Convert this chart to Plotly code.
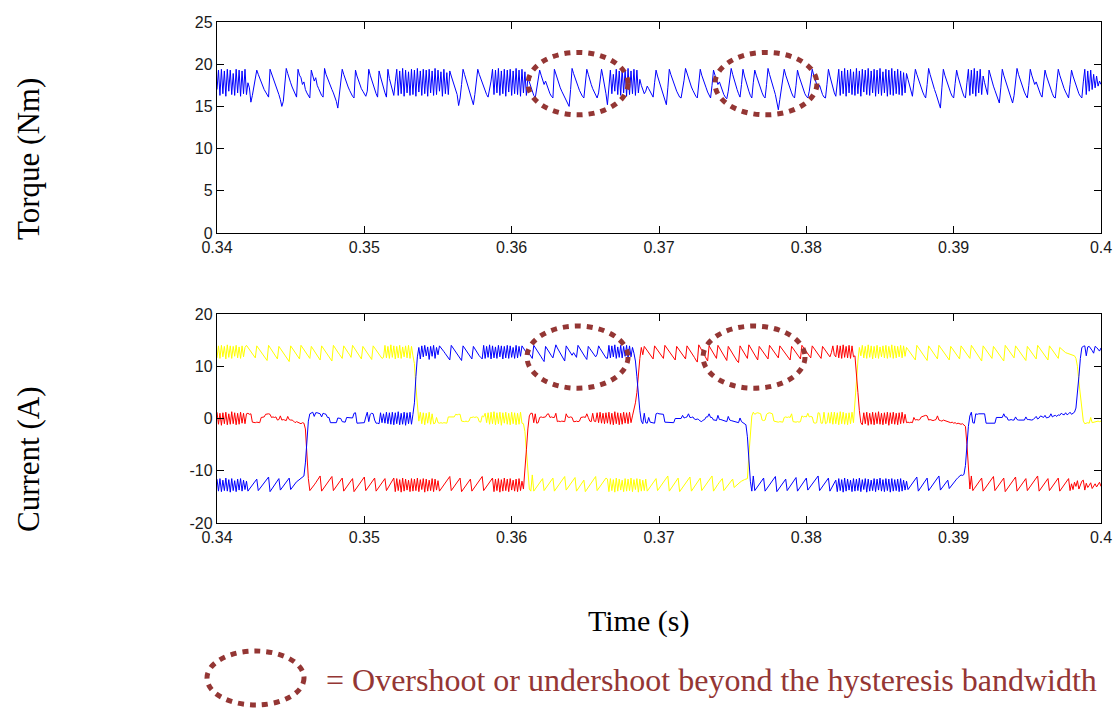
import numpy as np
import plotly.graph_objects as go

# ---------------- data ----------------
T_START = 0.34      # s, first sample
DT = 0.0001         # s, sample spacing

TORQUE = [
    17.0,19.3,16.3,19.4,16.5,19.2,16.2,19.4,16.8,19.3,16.4,18.9,16.3,19.4,16.6,19.3,16.2,19.2,16.5,19.4,16.4,17.8,
    17.2,15.5,16.3,17.4,18.5,
    19.3,18.8,18.3,17.8,17.5,17.0,16.7,16.3,16.1,
    19.4,18.9,18.6,18.0,17.6,17.1,16.4,15.8,15.0,15.6,17.5,
    19.5,18.9,18.2,17.8,17.3,16.9,16.4,16.1,
    19.4,18.7,18.4,17.6,17.9,17.0,16.6,16.2,16.0,
    19.3,18.6,18.0,18.4,17.5,17.1,16.6,16.3,16.1,
    19.5,18.8,18.3,17.8,17.4,17.0,16.6,16.1,15.6,14.8,16.2,17.8,
    19.4,18.8,18.2,17.7,17.3,16.9,16.5,16.2,16.0,
    19.3,18.6,18.0,17.6,17.1,16.8,16.4,16.2,16.8,
    19.4,18.7,18.1,17.5,17.0,16.5,16.1,
    19.2,18.5,17.8,17.2,16.6,16.1,
    19.4,18.3,17.6,16.9,16.3,17.9,
    19.4,16.3,19.2,16.5,19.5,16.2,19.3,16.6,19.1,16.3,19.4,16.4,19.3,16.2,19.5,16.7,19.2,16.3,
    19.4,16.5,19.3,16.2,19.4,16.6,19.2,16.3,19.5,16.4,19.3,16.8,19.1,16.2,19.4,16.5,19.0,16.4,
    19.2,18.6,18.0,17.5,17.0,16.4,15.1,16.0,17.6,
    19.4,18.8,18.2,17.7,17.2,16.7,16.1,15.2,16.4,17.9,
    19.4,18.8,18.3,17.8,17.3,16.8,16.4,16.1,16.9,18.0,
    19.4,16.4,19.3,16.6,19.5,16.3,19.2,16.5,19.4,16.2,19.3,16.7,19.4,16.3,19.2,16.5,19.5,16.4,19.3,16.2,19.4,16.6,19.1,16.3,18.4,
    17.8,17.2,16.7,16.3,16.0,17.2,18.5,
    19.3,18.7,18.2,17.6,18.0,17.4,16.9,16.5,16.2,16.0,
    19.4,18.8,18.2,17.7,17.2,16.8,16.4,16.0,15.6,15.2,15.0,17.0,
    19.5,18.9,18.3,17.8,17.4,16.9,16.5,16.2,16.0,17.6,
    19.4,18.8,18.1,17.6,17.1,16.7,16.3,16.0,16.6,18.0,
    19.4,18.5,17.6,16.5,15.2,
    17.8,19.3,16.5,18.8,16.8,19.4,16.4,19.2,16.3,19.4,16.6,19.3,16.2,19.5,16.4,19.2,16.5,19.4,16.3,19.3,16.6,18.2,
    17.5,16.9,16.5,16.8,17.4,17.1,16.7,16.4,16.1,17.8,
    19.3,18.6,18.0,17.4,16.9,16.4,15.8,15.2,17.2,
    19.4,18.8,18.2,17.7,17.3,16.8,16.4,16.1,16.0,16.9,18.1,
    19.5,18.9,18.3,17.8,17.3,16.9,16.5,16.2,16.0,17.7,
    19.4,18.7,18.1,17.6,17.2,16.7,16.3,16.0,17.5,
    19.3,18.7,18.1,17.6,17.9,17.3,16.8,16.4,16.1,15.9,16.8,18.0,
    19.5,18.8,18.1,17.5,17.0,16.5,16.1,17.6,
    19.4,18.6,17.9,17.3,16.8,16.3,16.0,17.8,
    19.3,18.7,18.1,17.5,17.0,16.6,16.2,16.0,17.6,
    19.5,18.8,18.1,17.5,17.0,16.4,15.6,14.6,15.8,17.0,18.2,
    19.4,18.7,18.1,17.5,17.0,16.6,16.2,16.0,17.5,
    19.3,18.6,18.0,17.4,16.9,16.5,16.2,16.0,16.8,18.1,
    19.4,18.7,18.1,17.6,17.1,17.5,16.9,16.4,16.1,16.0,17.6,
    19.4,18.6,17.8,17.2,16.6,16.2,17.9,
    19.4,16.3,19.2,16.5,19.5,16.2,19.3,16.6,19.4,16.4,19.1,16.3,19.5,16.5,19.2,16.2,19.4,16.7,19.3,16.4,
    19.5,16.3,19.2,16.6,19.4,16.2,19.3,16.5,19.5,16.3,19.1,16.6,19.4,16.2,19.3,16.4,19.5,16.3,19.2,16.5,
    19.4,16.4,19.2,16.3,19.0,16.6,
    18.9,18.2,17.5,16.8,16.2,17.8,
    19.4,18.8,18.2,17.6,17.1,16.7,16.3,16.0,17.6,
    19.5,18.8,18.1,17.5,17.0,16.5,16.0,15.5,14.8,17.2,
    19.4,18.7,18.1,17.5,17.0,16.6,16.2,16.0,17.7,
    19.3,18.5,17.8,17.2,16.7,16.2,16.0,17.8,
    19.4,16.3,19.3,16.5,19.5,16.2,19.2,16.6,19.4,16.4,
    18.6,17.8,17.0,16.4,
    19.3,18.6,18.0,17.4,16.9,16.4,15.9,15.4,17.2,
    19.4,18.7,18.1,17.5,17.0,16.5,16.0,15.4,16.3,17.9,
    19.5,18.8,18.2,17.6,17.1,16.7,16.3,16.0,17.5,
    19.4,18.7,18.1,17.6,17.9,17.3,16.8,16.4,16.1,17.7,
    19.3,18.6,18.0,17.5,17.0,16.5,16.1,16.0,17.8,
    19.4,18.7,18.1,17.6,17.1,16.7,16.3,16.0,17.6,
    19.3,18.6,18.0,17.4,16.9,16.5,16.2,16.0,17.9,
    19.4,16.4,19.2,16.8,19.3,17.0,18.8,17.2,18.6,17.4,
    18.0,17.6,
]

CURRENT_BLUE = [
    -11.6,-13.9,-11.5,-14.0,-11.8,-13.8,-11.4,-13.9,-11.7,-14.1,-11.5,-13.8,-11.9,-14.0,-11.6,-13.7,-11.5,-13.9,-11.8,-13.6,-12.0,
    -13.9,-13.5,-13.1,-12.7,-12.3,-12.0,-11.6,
    -13.8,-13.4,-13.0,-12.6,-12.2,-11.9,-11.5,-11.2,
    -14.0,-13.6,-13.2,-12.8,-12.3,-11.9,-11.5,
    -13.7,-13.3,-12.9,-12.5,-12.1,-11.8,-11.4,
    -13.6,-13.2,-12.8,-12.4,-12.1,-11.9,-11.7,-11.5,-11.3,-11.0,
    -8.5,-4.0,-0.5,0.9,
    1.0,1.2,0.4,1.1,1.1,1.0,0.9,0.3,1.0,0.9,
    0.8,0.2,0.2,-0.8,-0.8,-0.8,-0.9,-0.8,0.1,0.1,
    0.0,-0.6,-0.7,-0.7,0.2,0.2,0.2,0.2,0.1,1.0,
    1.1,-0.9,-0.9,-0.8,-0.9,-0.9,-0.8,0.3,1.2,-0.6,
    0.8,1.0,0.9,-0.3,-0.9,-0.9,-1.0,1.1,-0.8,0.9,
    -0.9,1.2,-1.0,1.1,
    -1.1,1.2,-1.2,1.1,-1.0,1.3,-1.2,1.0,-1.1,1.2,-1.3,1.1,-1.0,1.2,-1.1,0.8,
    3.0,8.0,
    11.8,13.6,
    11.4,13.9,11.8,14.0,12.0,13.7,11.3,13.8,11.9,14.0,11.5,13.6,12.2,13.9,
    13.6,13.2,12.8,12.4,12.0,11.6,11.2,
    14.0,13.6,13.2,12.7,12.3,11.9,11.5,11.1,
    13.9,13.5,13.0,12.6,12.2,11.8,11.4,
    13.8,13.3,12.9,12.4,12.0,11.7,11.4,
    14.0,11.5,13.8,11.7,14.1,11.4,13.9,11.6,13.7,11.5,14.0,11.8,13.9,11.4,13.8,11.6,14.0,11.5,13.9,11.7,13.6,11.5,14.0,11.6,13.8,11.9,
    13.9,13.5,13.0,12.6,12.8,12.3,11.9,11.5,
    14.0,13.6,13.1,12.7,12.2,11.8,11.3,10.9,
    13.8,13.3,12.9,12.4,12.0,11.6,12.8,
    14.1,13.5,13.0,12.5,12.0,11.5,11.0,
    13.9,13.4,12.9,12.5,12.1,12.6,12.2,11.7,
    14.0,13.5,13.0,12.5,12.1,11.7,11.3,
    13.8,13.4,13.0,12.6,12.2,11.8,12.3,
    13.9,13.4,12.9,12.4,12.0,11.6,11.5,
    14.0,11.6,13.9,11.8,14.1,11.5,13.7,11.7,14.0,11.6,13.8,11.9,14.0,11.5,13.9,11.8,13.6,
    12.5,11.0,8.0,4.5,
    1.5,-0.5,-1.0,
    1.0,-0.8,-0.9,0.2,-0.7,-0.8,-0.8,-0.9,0.9,1.0,
    0.9,0.9,0.9,0.8,-0.7,-0.7,-0.7,-0.8,-0.8,-0.7,
    -0.8,0.0,0.0,0.1,0.1,0.0,0.6,0.1,0.2,0.3,
    0.9,0.2,0.2,0.3,-0.1,-0.2,-0.1,-0.2,-0.5,-0.6,
    -0.3,-0.2,0.3,0.3,0.9,0.2,0.2,-0.3,-0.3,-0.4,
    0.6,-0.2,-0.2,-0.3,-0.5,-0.6,-0.6,0.4,-0.3,-0.4,
    -0.5,-0.6,-0.7,-0.8,-0.8,0.1,-0.6,-0.8,-1.0,-1.2,
    -3.5,-8.0,
    -12.0,-13.9,
    -11.0,-13.8,-13.4,-13.0,-12.6,-12.2,-11.8,-11.4,
    -13.9,-13.5,-13.1,-12.7,-12.3,-11.9,-11.5,-11.1,
    -14.0,-13.6,-13.2,-12.8,-12.4,-12.0,-11.6,
    -13.8,-13.4,-13.0,-12.6,-12.2,-11.8,-11.3,
    -13.9,-13.5,-13.1,-12.7,-12.2,-11.8,-11.4,
    -13.7,-13.3,-12.9,-12.5,-12.1,-11.7,-11.3,-11.0,
    -13.8,-13.4,-13.0,-12.6,-12.2,-11.8,-11.4,
    -13.9,-13.4,-12.9,-12.4,-11.8,
    -14.0,-11.5,-13.8,-11.7,-14.1,-11.4,-13.9,-11.6,-13.7,-11.8,
    -14.0,-11.5,-13.9,-11.6,-13.8,-11.4,-14.0,-11.7,-13.6,-11.5,
    -14.1,-11.6,-13.9,-11.8,-13.8,-11.5,-14.0,-11.6,-13.7,-11.4,
    -13.9,-11.7,-14.0,-11.5,-13.8,-11.6,-14.1,-11.5,-13.9,-11.7,
    -13.8,-11.6,-14.0,-11.5,-13.9,-11.8,-13.7,-12.0,
    -13.6,-13.2,-12.8,-12.4,-12.0,-11.6,-11.2,
    -13.9,-13.5,-13.1,-12.6,-12.2,-11.8,-11.4,
    -13.8,-13.4,-13.0,-12.6,-12.2,-11.8,-11.4,-11.0,
    -13.7,-13.3,-12.9,-12.5,-12.1,-11.8,
    -13.4,-13.0,-12.6,-12.2,-11.9,-11.6,-11.3,-11.0,-10.8,-10.9,-10.7,
    -9.0,-5.0,-1.5,
    0.5,
    1.2,-0.8,-0.9,0.9,0.8,0.9,0.9,1.0,1.0,0.9,
    -0.9,-0.9,-0.8,-0.9,-0.9,-0.8,-0.9,0.2,0.2,0.3,
    0.2,0.2,0.9,0.3,0.3,-0.3,-0.3,-0.2,-0.3,-0.3,
    0.3,-0.2,-0.3,-0.3,-0.4,-0.3,-0.3,0.3,-0.2,-0.2,
    -0.3,-0.3,-0.2,0.2,0.4,-0.1,0.1,0.5,0.3,0.2,
    0.6,0.1,0.2,0.3,0.9,0.3,0.5,0.6,0.4,0.7,
    0.6,1.0,0.8,0.7,1.1,0.7,0.9,1.2,0.8,1.0,
    1.2,2.0,4.5,8.0,11.5,13.6,
    13.8,13.9,12.0,13.7,13.8,13.5,13.0,12.5,13.8,13.6,13.2,12.9,13.5,
]

CURRENT_YELLOW = [
    11.6,13.9,11.5,14.0,11.8,13.8,11.4,14.1,11.7,13.9,11.5,13.8,11.9,14.0,11.6,13.7,11.5,13.9,11.8,13.6,
    14.0,13.6,13.2,12.8,12.4,12.0,11.6,
    13.9,13.5,13.1,12.7,12.3,11.9,11.5,11.1,
    14.0,13.6,13.1,12.7,12.3,11.8,11.4,
    13.8,13.4,13.0,12.6,12.1,11.7,11.3,10.9,
    13.9,13.5,13.1,12.6,12.2,11.8,11.4,
    14.0,13.6,13.2,12.7,12.3,11.9,11.5,
    13.8,13.4,13.0,12.5,12.1,11.7,11.2,
    13.9,13.5,13.0,12.6,12.2,11.8,11.4,11.0,
    14.0,13.5,13.1,12.7,12.3,11.9,11.5,
    13.9,13.4,13.0,12.6,12.2,11.7,
    14.0,13.6,13.1,12.7,12.2,11.8,11.4,
    13.8,13.4,13.0,12.5,12.1,11.7,11.3,
    13.9,13.5,13.1,12.7,12.3,11.9,11.5,11.7,
    14.0,11.6,13.8,11.5,14.1,11.7,13.9,11.4,13.8,11.6,14.0,11.5,13.7,11.8,13.9,11.6,14.0,11.5,13.8,12.0,
    10.5,6.0,2.0,-0.5,
    1.2,-1.0,1.1,-1.2,1.0,-0.9,1.2,-1.1,0.9,-1.0,-0.9,0.2,-0.8,-0.9,-0.8,
    -0.9,-0.8,-0.8,-0.9,0.3,0.3,0.3,0.2,0.3,0.8,
    0.7,0.8,0.8,-0.5,-0.6,-0.6,-0.5,-0.6,-0.5,0.2,
    0.2,0.3,0.2,0.3,0.2,-0.6,-0.7,0.5,0.3,1.0,
    -0.8,1.1,
    -1.1,1.2,-1.0,1.3,-1.2,1.1,-1.0,1.2,-1.3,1.1,-0.9,1.2,-1.1,1.0,-1.2,1.2,-1.0,1.1,-1.2,1.0,-1.1,1.2,-0.9,
    -1.0,-2.5,-6.5,-11.0,
    -13.5,-13.9,
    -10.8,-13.9,-13.5,-13.1,-12.7,-12.3,-11.9,-11.5,
    -13.8,-13.4,-13.0,-12.6,-12.2,-11.8,-11.4,
    -13.9,-13.5,-13.1,-12.7,-12.3,-11.9,-11.5,-11.1,
    -13.7,-13.3,-12.9,-12.5,-12.1,-11.7,-11.3,
    -13.9,-13.5,-13.0,-12.6,-12.2,-11.8,
    -14.0,-13.6,-13.2,-12.8,-12.3,-11.9,-11.5,-11.1,
    -13.8,-13.4,-13.0,-12.5,-12.1,-11.7,-11.4,-11.6,
    -14.0,-11.5,-13.8,-11.7,-14.1,-11.4,-13.9,-11.6,-13.7,-11.8,-14.0,-11.5,-13.9,
    -11.6,-13.8,-11.4,-14.0,-11.7,-13.6,-11.5,-14.1,-11.6,-13.9,-11.8,-13.8,-11.6,
    -13.9,-13.5,-13.1,-12.7,-12.3,-11.9,-11.5,
    -13.8,-13.4,-13.0,-12.6,-12.2,-11.8,-11.4,-11.0,
    -13.9,-13.5,-13.1,-12.6,-12.2,-11.8,-11.4,
    -14.0,-13.6,-13.2,-12.8,-12.4,-12.0,-11.6,-11.2,
    -13.9,-13.5,-13.0,-12.6,-12.2,-11.8,-11.4,
    -13.8,-13.4,-13.0,-12.6,-12.2,-11.8,-11.4,-11.0,
    -13.9,-13.4,-13.0,-12.6,-12.2,-11.8,-11.5,
    -13.8,-13.4,-13.0,-12.6,-12.3,-11.9,-11.6,
    -13.2,-12.9,-12.6,-12.4,-12.2,-12.0,-11.8,
    -11.7,-11.6,-11.5,-7.0,
    -3.0,0.5,
    1.2,0.8,1.0,1.1,1.0,0.9,-0.3,-0.4,-0.3,0.8,
    1.0,1.1,1.0,0.9,-0.5,-0.6,-0.6,-0.7,-0.6,-0.6,
    -0.7,0.2,0.3,0.2,0.3,0.2,0.9,-0.6,-0.7,-0.7,
    -0.6,-0.7,-0.6,0.5,0.3,0.4,0.3,1.0,0.3,0.4,
    0.3,-0.8,-0.9,-0.8,1.1,1.0,-0.9,-0.9,1.2,-1.0,
    -0.8,1.1,-0.9,1.2,
    -1.1,1.2,-1.0,1.1,-1.2,1.3,-1.0,1.2,-1.1,1.0,-1.2,1.1,-1.0,1.2,-0.8,
    2.5,7.0,11.0,
    13.6,12.0,
    14.0,11.6,13.8,11.5,14.1,11.7,13.9,11.4,13.8,11.6,14.0,11.5,13.7,11.8,13.9,
    11.6,14.0,11.5,13.8,11.7,14.1,11.5,13.9,11.6,13.8,11.8,14.0,11.6,13.9,11.9,
    13.6,13.2,12.8,12.4,12.0,11.6,11.2,
    14.0,13.6,13.2,12.8,12.3,11.9,11.5,11.1,
    13.9,13.5,13.1,12.7,12.3,11.8,11.4,
    14.0,13.6,13.2,12.8,12.4,12.0,11.6,11.2,
    13.8,13.4,13.0,12.6,12.2,11.8,11.4,
    13.9,13.5,13.1,12.7,12.3,11.9,11.5,
    14.0,13.6,13.1,12.7,12.3,11.8,11.4,11.0,
    13.9,13.5,13.1,12.7,12.3,11.9,11.5,
    13.8,13.4,13.0,12.6,12.2,11.8,11.4,11.0,
    14.0,13.6,13.2,12.8,12.4,12.0,11.6,
    13.9,13.5,13.1,12.7,12.3,11.9,11.5,11.1,
    13.8,13.4,13.0,12.6,12.2,11.8,11.4,
    14.0,13.6,13.2,12.8,12.4,12.0,11.6,11.2,
    13.9,13.5,13.1,12.7,12.3,11.9,11.5,
    13.6,13.3,13.0,12.8,12.6,12.5,12.4,12.3,12.2,12.1,
    12.0,11.5,10.0,7.0,4.0,1.5,
    -0.5,-1.0,-0.9,-0.8,-0.9,0.2,-0.8,-0.7,-0.7,-0.6,-0.5,-0.6,-0.5,
]

CURRENT_RED = [
    1.2,-1.1,1.0,-1.3,1.1,-1.0,1.2,-1.2,0.9,-1.1,1.3,-1.0,1.1,-1.2,1.0,-1.1,1.2,-0.9,1.0,-1.0,
    0.9,1.0,0.8,0.9,-0.7,-0.8,-0.8,-0.7,-0.8,-0.8,
    0.2,0.3,0.3,0.8,0.9,0.9,0.8,0.2,0.3,0.2,
    0.3,-0.3,-0.2,0.5,-0.3,-0.2,-0.3,-0.4,0.4,-0.2,
    -0.3,-0.3,-0.5,-0.8,-0.6,-0.7,-0.9,-1.0,-0.8,-0.9,
    -2.0,-7.0,-11.5,-13.8,
    -13.5,-13.1,-12.7,-12.3,-11.9,-11.5,-11.0,
    -13.9,-13.5,-13.1,-12.7,-12.3,-11.9,-11.5,-11.1,
    -13.8,-13.4,-13.0,-12.6,-12.2,-11.8,-11.4,
    -13.9,-13.5,-13.1,-12.7,-12.3,-11.9,-11.5,
    -14.0,-13.6,-13.2,-12.8,-12.4,-12.0,-11.6,-11.2,
    -13.8,-13.4,-13.0,-12.6,-12.2,-11.8,-11.4,
    -13.9,-13.5,-13.1,-12.7,-12.3,-11.9,-11.5,
    -13.8,-13.3,-12.8,-12.3,-11.8,-11.4,
    -14.0,-11.5,-13.8,-11.7,-14.1,-11.4,-13.9,-11.6,-13.7,-11.8,-14.0,-11.5,-13.9,-11.6,-13.8,
    -11.4,-14.0,-11.7,-13.6,-11.5,-14.1,-11.6,-13.9,-11.8,-13.8,-11.5,-14.0,-11.6,-13.7,-11.9,
    -13.9,-13.5,-13.1,-12.7,-12.3,-11.9,-11.5,-11.1,
    -13.8,-13.4,-13.0,-12.6,-12.2,-11.8,-11.4,
    -14.0,-13.6,-13.2,-12.8,-12.4,-12.0,-11.6,
    -13.9,-13.5,-13.1,-12.7,-12.3,-11.9,-11.5,-11.1,
    -13.8,-13.4,-13.0,-12.6,-12.2,-11.8,-11.4,
    -14.0,-11.6,-13.8,-11.5,-14.1,-11.7,-13.9,-11.4,-13.8,-11.6,-14.0,-11.5,-13.7,-11.8,-13.9,-11.6,-14.0,-11.5,-13.8,-12.0,
    -13.5,-10.5,-6.0,-2.0,0.5,1.0,
    1.0,-0.8,0.9,-0.9,-0.8,0.2,0.3,0.2,0.3,0.3,
    0.8,0.9,0.2,0.3,0.2,0.2,1.0,-0.6,-0.5,-0.6,
    -0.5,-0.5,-0.6,0.9,0.3,0.2,0.3,0.2,-0.6,-0.6,
    -0.5,-0.6,-0.5,0.2,0.3,0.3,0.2,0.9,0.2,-0.5,
    -0.6,1.0,-0.5,-0.6,1.1,-0.8,1.2,-0.9,1.0,-1.0,
    1.1,-0.9,
    1.2,-1.1,1.0,-1.2,1.3,-1.0,1.1,-1.2,1.0,-1.1,1.2,-0.9,1.1,-1.0,1.2,-0.8,0.5,
    1.5,3.0,5.0,8.5,11.5,13.6,
    12.2,13.8,13.4,13.0,12.6,12.2,11.8,11.4,
    13.9,13.5,13.1,12.7,12.3,11.9,11.5,
    14.0,13.6,13.2,12.8,12.4,12.0,11.6,11.2,
    13.8,13.4,13.0,12.6,12.2,11.8,11.4,
    13.9,13.5,13.1,12.6,12.2,11.7,11.2,10.8,
    14.1,13.6,13.1,12.6,12.1,11.6,11.0,
    13.9,13.4,12.9,12.5,12.0,11.5,
    14.0,13.5,13.0,12.5,12.0,11.6,11.1,
    13.8,13.3,12.8,12.4,12.0,11.5,11.0,10.7,
    13.9,13.4,12.9,12.4,11.9,11.5,
    14.1,13.6,13.1,12.6,12.1,11.6,11.2,
    13.8,13.4,13.0,12.6,12.2,11.8,11.4,
    14.0,13.6,13.2,12.8,12.4,12.0,11.6,
    13.9,13.5,13.1,12.7,12.3,11.9,11.5,11.2,
    13.8,13.4,13.0,12.6,12.2,11.8,11.4,
    14.0,13.6,13.2,12.8,12.4,12.0,11.6,
    13.9,13.5,13.1,12.7,12.3,11.9,11.5,
    13.8,13.4,13.0,12.6,12.2,11.8,12.6,13.9,12.2,11.8,
    14.0,11.6,13.9,11.5,14.1,11.7,13.8,11.6,14.0,11.5,13.9,11.8,
    12.0,9.0,5.0,1.5,-0.8,
    -1.2,1.1,-1.0,1.2,-1.3,1.0,-1.1,1.2,-1.2,1.1,-1.0,1.3,-1.1,1.0,-1.2,
    1.1,-1.0,1.2,-1.3,1.1,-1.0,1.2,-1.1,1.0,-1.2,1.1,-1.0,1.2,-0.9,0.8,
    -0.8,-0.7,-0.8,-0.7,-0.8,0.2,-0.3,-0.2,-0.3,-0.2,
    0.3,0.4,0.5,0.6,0.5,-0.3,-0.2,-0.3,-0.4,-0.3,
    -0.2,0.5,-0.3,-0.4,-0.5,-0.3,-0.4,-0.5,-0.6,-0.7,
    -0.8,-0.7,-0.9,-0.8,-1.0,-0.9,-1.0,-1.1,-1.0,-1.2,
    -1.5,-5.0,-10.0,-13.5,
    -11.0,-13.8,-13.4,-13.0,-12.6,-12.2,-11.8,-11.4,
    -13.9,-13.5,-13.1,-12.7,-12.3,-11.9,-11.5,-11.1,
    -13.8,-13.4,-13.0,-12.6,-12.2,-11.8,-11.4,
    -14.0,-13.6,-13.2,-12.8,-12.4,-12.0,-11.6,-11.2,
    -13.9,-13.5,-13.1,-12.7,-12.3,-11.9,-11.5,
    -13.8,-13.4,-13.0,-12.6,-12.2,-11.8,-11.4,-11.0,
    -13.9,-13.5,-13.1,-12.7,-12.3,-11.9,-11.5,
    -13.8,-13.4,-13.0,-12.6,-12.2,-11.8,-11.4,
    -13.9,-13.5,-13.1,-12.7,-12.3,-11.9,-11.5,
    -13.8,-12.5,-13.6,-12.2,-13.0,-11.9,-13.5,-12.6,-12.0,-11.8,
    -13.7,-12.4,-13.2,-12.8,-12.3,-13.4,-12.9,-12.5,-13.1,-12.7,-12.2,-13.0,
]

X_TICKS = [0.34, 0.35, 0.36, 0.37, 0.38, 0.39, 0.40]
X_TICK_LABELS = ["0.34", "0.35", "0.36", "0.37", "0.38", "0.39", "0.4"]
TORQUE_TICKS = [0, 5, 10, 15, 20, 25]
TORQUE_TICK_LABELS = ["0", "5", "10", "15", "20", "25"]
CURRENT_TICKS = [-20, -10, 0, 10, 20]
CURRENT_TICK_LABELS = ["-20", "-10", "0", "10", "20"]

# annotation ellipses (data coordinates: t0, t1, y0, y1)
TORQUE_ELLIPSES = [(0.36111, 0.36790, 14.0, 21.4), (0.37380, 0.38072, 14.0, 21.4)]
CURRENT_ELLIPSES = [(0.36104, 0.36790, 5.8, 17.7), (0.37299, 0.37991, 5.8, 17.7)]

n = len(TORQUE)
for name, arr in [("blue", CURRENT_BLUE), ("yellow", CURRENT_YELLOW), ("red", CURRENT_RED)]:
    if len(arr) != n:
        raise SystemExit(f"length mismatch: torque={n} {name}={len(arr)}")
if n != 601:
    raise SystemExit(f"torque length {n}")

t = T_START + DT * np.arange(n)

# ---------------- figure ----------------
W, H = 1117, 709
ML, MR, MT, MB = 217, 16, 22, 186
PW, PH = W - ML - MR, H - MT - MB

def py(pix):  # pixel row -> paper y
    return (H - MB - pix) / PH

def px(pix):  # pixel column -> paper x
    return (pix - ML) / PW

BROWN = "#943634"
SERIF = "Liberation Serif, Times New Roman, serif"
SANS = "Liberation Sans, Arial, sans-serif"

fig = go.Figure()
fig.add_trace(go.Scatter(x=t, y=TORQUE, mode="lines", line=dict(color="#0000FF", width=1),
                         xaxis="x", yaxis="y", showlegend=False, hoverinfo="skip"))
fig.add_trace(go.Scatter(x=t, y=CURRENT_YELLOW, mode="lines", line=dict(color="#FFFF00", width=1),
                         xaxis="x2", yaxis="y2", showlegend=False, hoverinfo="skip"))
fig.add_trace(go.Scatter(x=t, y=CURRENT_RED, mode="lines", line=dict(color="#FF0000", width=1),
                         xaxis="x2", yaxis="y2", showlegend=False, hoverinfo="skip"))
fig.add_trace(go.Scatter(x=t, y=CURRENT_BLUE, mode="lines", line=dict(color="#0000FF", width=1),
                         xaxis="x2", yaxis="y2", showlegend=False, hoverinfo="skip"))

axis_common = dict(showline=True, linecolor="#000000", linewidth=1.3, mirror="ticks",
                   ticks="inside", ticklen=7, tickwidth=1.3, tickcolor="#000000",
                   showgrid=False, zeroline=False, automargin=False,
                   tickfont=dict(family=SANS, size=16, color="#1a1a1a"))

top_bottom = py(233)
bot_top = py(314)

fig.update_layout(
    width=W, height=H, template="none",
    paper_bgcolor="white", plot_bgcolor="white",
    margin=dict(l=ML, r=MR, t=MT, b=MB, autoexpand=False),
    xaxis=dict(domain=[0, 1], anchor="y", range=[0.34, 0.40], tickvals=X_TICKS,
               ticktext=X_TICK_LABELS, **axis_common),
    yaxis=dict(domain=[top_bottom, 1], anchor="x", range=[0, 25], tickvals=TORQUE_TICKS,
               ticktext=TORQUE_TICK_LABELS, **axis_common),
    xaxis2=dict(domain=[0, 1], anchor="y2", range=[0.34, 0.40], tickvals=X_TICKS,
                ticktext=X_TICK_LABELS, **axis_common),
    yaxis2=dict(domain=[0, bot_top], anchor="x2", range=[-20, 20], tickvals=CURRENT_TICKS,
                ticktext=CURRENT_TICK_LABELS, **axis_common),
)

shapes = []
dot = "6px,6px"
for (x0, x1, y0, y1) in TORQUE_ELLIPSES:
    shapes.append(dict(type="circle", xref="x", yref="y", x0=x0, x1=x1, y0=y0, y1=y1,
                       line=dict(color=BROWN, width=5, dash=dot), layer="above"))
for (x0, x1, y0, y1) in CURRENT_ELLIPSES:
    shapes.append(dict(type="circle", xref="x2", yref="y2", x0=x0, x1=x1, y0=y0, y1=y1,
                       line=dict(color=BROWN, width=5, dash=dot), layer="above"))
# legend key ellipse below the chart
shapes.append(dict(type="circle", xref="paper", yref="paper",
                   x0=px(207), x1=px(304), y0=py(705), y1=py(651),
                   line=dict(color=BROWN, width=5, dash=dot)))
fig.update_layout(shapes=shapes)

annotations = [
    dict(text="Torque (Nm)", xref="paper", yref="paper", x=px(28), y=py(159),
         textangle=-90, showarrow=False, xanchor="center", yanchor="middle",
         font=dict(family=SERIF, size=31, color="#000000")),
    dict(text="Current (A)", xref="paper", yref="paper", x=px(28), y=py(460),
         textangle=-90, showarrow=False, xanchor="center", yanchor="middle",
         font=dict(family=SERIF, size=31, color="#000000")),
    dict(text="Time (s)", xref="paper", yref="paper", x=px(638), y=py(621),
         showarrow=False, xanchor="center", yanchor="middle",
         font=dict(family=SERIF, size=30, color="#000000")),
    dict(text="= Overshoot or undershoot beyond the hysteresis bandwidth", xref="paper",
         yref="paper", x=px(324), y=py(680), showarrow=False, xanchor="left", yanchor="middle",
         font=dict(family=SERIF, size=32, color=BROWN)),
]
fig.update_layout(annotations=annotations)

fig.write_html("out.html", config={"displayModeBar": False},
               post_script="document.body.style.margin='0px';document.body.style.overflow='hidden';")
